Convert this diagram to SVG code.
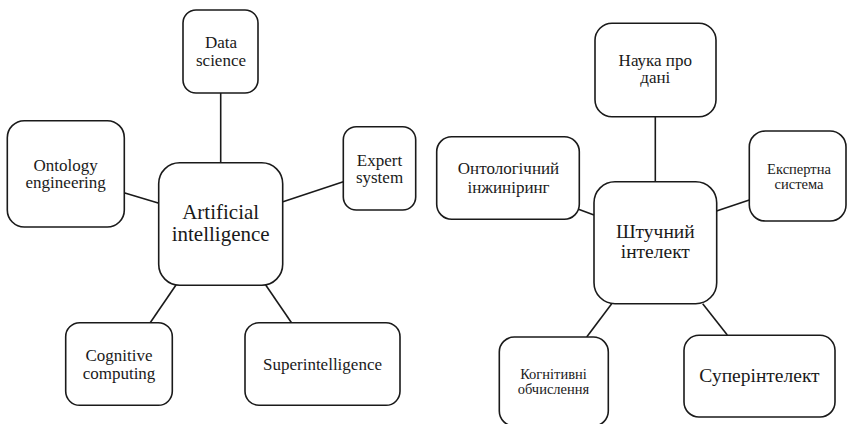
<svg xmlns="http://www.w3.org/2000/svg" width="847" height="424" viewBox="0 0 847 424">
<style>
.box{fill:#fff;stroke:#1a1a1a;stroke-width:1.6}
.ln{stroke:#1a1a1a;stroke-width:1.6;fill:none}
text{fill:#1a1a1a;text-anchor:middle}
.t17{font-size:17px}
.t22{font-size:21px}
.t20{font-size:19.5px}
.t15{font-size:14.5px}
</style>
<rect width="847" height="424" fill="#fff"/>
<g id="connectors">
<line class="ln" x1="220.7" y1="93" x2="220.7" y2="163"/>
<line class="ln" x1="124" y1="192.7" x2="159" y2="203.3"/>
<line class="ln" x1="283" y1="201.7" x2="343.3" y2="181.7"/>
<line class="ln" x1="176" y1="285" x2="150" y2="323"/>
<line class="ln" x1="265.7" y1="285" x2="291.7" y2="323"/>
<line class="ln" x1="655.3" y1="117" x2="655.3" y2="182"/>
<line class="ln" x1="578.5" y1="209.3" x2="594" y2="215"/>
<line class="ln" x1="716.5" y1="211" x2="749.3" y2="200"/>
<line class="ln" x1="611.7" y1="303.7" x2="586.7" y2="337"/>
<line class="ln" x1="702.7" y1="303.7" x2="727.3" y2="335"/>
</g>
<g font-family="Liberation Serif, Tinos, Times New Roman, Times, DejaVu Serif, serif">
<g id="data-science">
<rect class="box" x="183" y="10" width="75" height="83" rx="13"/>
<text class="t17" x="221" y="48.3">Data</text>
<text class="t17" x="221" y="65.7">science</text>
</g>
<g id="ontology-engineering">
<rect class="box" x="7.3" y="120.7" width="117" height="106.3" rx="17"/>
<text class="t17" x="65.7" y="170.5">Ontology</text>
<text class="t17" x="65.7" y="188.3">engineering</text>
</g>
<g id="expert-system">
<rect class="box" x="343.3" y="126.7" width="72.4" height="83.3" rx="13"/>
<text class="t17" x="379.5" y="165.7">Expert</text>
<text class="t17" x="379.5" y="183.3">system</text>
</g>
<g id="artificial-intelligence">
<rect class="box" x="158.7" y="162.7" width="124" height="122.6" rx="21"/>
<text class="t22" x="220.7" y="219">Artificial</text>
<text class="t22" x="220.7" y="240.7">intelligence</text>
</g>
<g id="cognitive-computing">
<rect class="box" x="65.7" y="322.7" width="106.6" height="82.6" rx="14"/>
<text class="t17" x="119" y="360.7">Cognitive</text>
<text class="t17" x="119" y="378.7">computing</text>
</g>
<g id="superintelligence">
<rect class="box" x="245" y="322.7" width="155" height="82.6" rx="14"/>
<text class="t17" x="322.5" y="369.7">Superintelligence</text>
</g>
<g id="nauka-pro-dani">
<rect class="box" x="595" y="23.3" width="121" height="93.4" rx="17"/>
<text class="t17" x="655.3" y="65.7">Наука про</text>
<text class="t17" x="655.3" y="83.3">дані</text>
</g>
<g id="ontolohichnyi-inzhynirynh">
<rect class="box" x="436.7" y="136.7" width="142.6" height="82.6" rx="15"/>
<text class="t17" x="508.5" y="174">Онтологічний</text>
<text class="t17" x="508.5" y="193">інжиніринг</text>
</g>
<g id="ekspertna-systema">
<rect class="box" x="749.3" y="131" width="96.7" height="90" rx="16"/>
<text class="t15" x="799" y="173.5">Експертна</text>
<text class="t15" x="799" y="188.5">система</text>
</g>
<g id="shtuchnyi-intelekt">
<rect class="box" x="594" y="181.7" width="122.7" height="122" rx="21"/>
<text class="t20" x="655.3" y="238.3">Штучний</text>
<text class="t20" x="655.3" y="258">інтелект</text>
</g>
<g id="kohnityvni-obchyslennia">
<rect class="box" x="499.3" y="337" width="109" height="89" rx="15"/>
<text class="t15" x="553.5" y="378.7">Когнітивні</text>
<text class="t15" x="553.5" y="394.3">обчислення</text>
</g>
<g id="superintelekt">
<rect class="box" x="684" y="335.3" width="151" height="81.7" rx="15"/>
<text class="t20" x="759.5" y="382">Суперінтелект</text>
</g>
</g>
</svg>
